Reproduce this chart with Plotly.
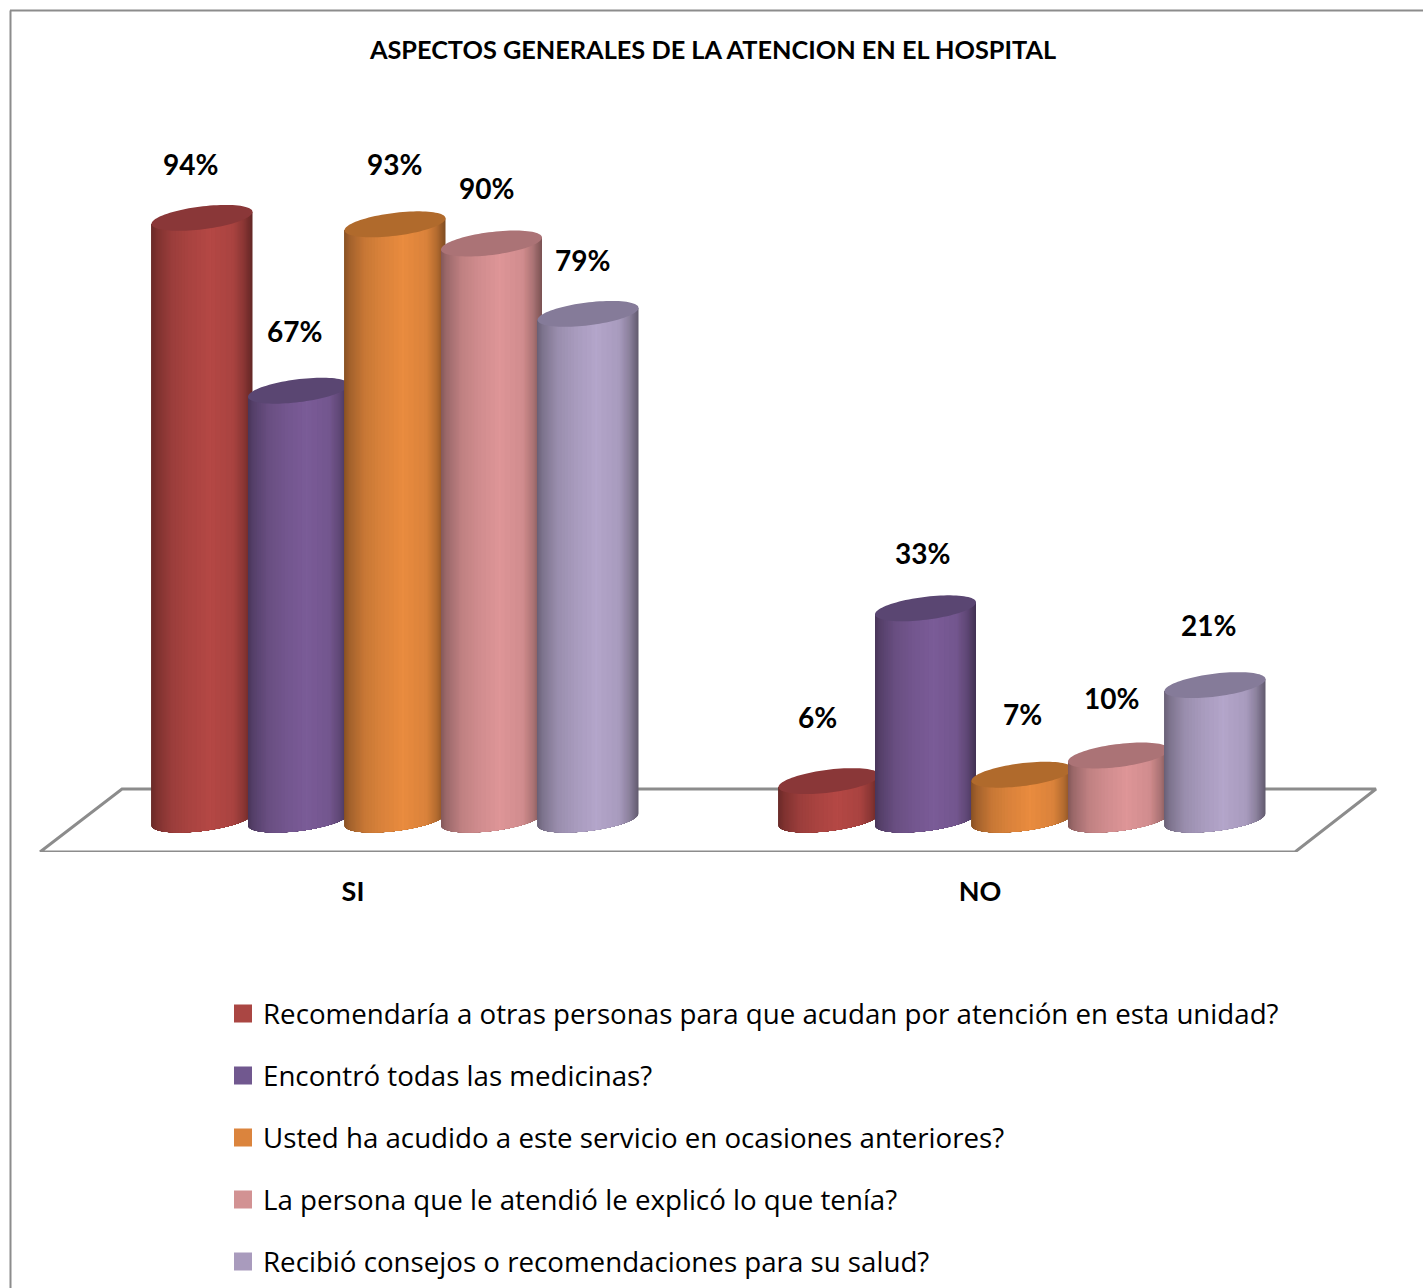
import numpy as np
import plotly.graph_objects as go

# Survey answers, as percentages of respondents
categories = ["SI", "NO"]
series_names = [
    "Recomendaría a otras personas para que acudan por atención en esta unidad?",
    "Encontró todas las medicinas?",
    "Usted ha acudido a este servicio en ocasiones anteriores?",
    "La persona que le atendió le explicó lo que tenía?",
    "Recibió consejos o recomendaciones para su salud?",
]
recomendaria = [94, 6]
medicinas = [67, 33]
ocasiones = [93, 7]
explico = [90, 10]
consejos = [79, 21]
series_values = [recomendaria, medicinas, ocasiones, explico, consejos]

legend_colors = ["#AA4643", "#71588F", "#DB843D", "#D29293", "#A99BBD"]
body_colors = ["#B54845", "#7B5C98", "#EA8C3F", "#DF9698", "#B4A6CB"]
cap_colors = ["#8A3738", "#5A4672", "#B06A2C", "#AB7376", "#857B99"]

# Label nudges in pixels (right, up) relative to the top of each cylinder
label_shifts = [
    [(-11.5, 54), (-11.5, 64)],
    [(-4.5, 60), (-3.5, 55)],
    [(-0.5, 60), (0.5, 61)],
    [(-5.5, 56), (-7.5, 58)],
    [(-5.5, 54), (-6.5, 60)],
]

WIDTH, HEIGHT = 1423, 1288
PX_PER_CATEGORY = 627.0
PX_PER_PERCENT = 6.40
FIRST_CATEGORY_PX = 353.0
ZERO_PX = 819.5
FLOOR_FRONT_PX = 852.0

# Axis scales: pixels on the page translate linearly into data units
x_range = [-FIRST_CATEGORY_PX / PX_PER_CATEGORY, (WIDTH - FIRST_CATEGORY_PX) / PX_PER_CATEGORY]
y_range = [(ZERO_PX - FLOOR_FRONT_PX) / PX_PER_PERCENT, ZERO_PX / PX_PER_PERCENT]
y_domain = [(HEIGHT - FLOOR_FRONT_PX) / HEIGHT, 1.0]

# Cylinder geometry, in pixels
RADIUS = 50.5
MINOR = 11.5
TILT = 6.0 / RADIUS
SPACING = 96.5
DEPTH_SHIFT = 42.0

# Brightness profile across a cylinder: rises to the highlight, then falls off
RISE_T = [0.0, 0.05, 0.2, 0.38, 0.58]
RISE_F = [0.60, 0.70, 0.86, 0.94, 1.0]
FALL_T = [0.58, 0.81, 0.91, 1.0]
FALL_F = [1.0, 0.94, 0.78, 0.55]
SHADE_LEVELS = np.linspace(0.55, 1.0, 34)


def tinted(color, factor):
    r, g, b = (int(color[i:i + 2], 16) for i in (1, 3, 5))
    return f"rgb({r * factor:.0f},{g * factor:.0f},{b * factor:.0f})"


def center_x(cat, idx):
    return cat + (DEPTH_SHIFT + (idx - 2) * SPACING) / PX_PER_CATEGORY


def band_outline(value, t_left, t_right):
    """Outline (dx px, height in percent) of the body between two fractions of its width."""
    th = np.linspace(np.arccos(1 - 2 * t_left), np.arccos(1 - 2 * t_right), 30)
    dx = -RADIUS * np.cos(th)
    front = (TILT * dx - MINOR * np.sin(th)) / PX_PER_PERCENT
    px = np.concatenate([dx, [dx[-1], dx[0], dx[0]]])
    py = np.concatenate([front, [value + TILT * dx[-1] / PX_PER_PERCENT,
                                 value + TILT * dx[0] / PX_PER_PERCENT, front[0]]])
    return px, py


fig = go.Figure()

# Floor of the plot
fl = np.array([40, 1295, 1376, 122, 40], dtype=float)
fy = np.array([852, 852, 789, 789, 852], dtype=float)
fig.add_trace(go.Scatter(
    x=(fl - FIRST_CATEGORY_PX) / PX_PER_CATEGORY,
    y=(ZERO_PX - fy) / PX_PER_PERCENT,
    mode="lines", line=dict(color="#8C8C8C", width=3),
    showlegend=False, hoverinfo="skip",
))

# One marker per value: the legend swatch source, sits behind the cylinders
for i, (name, vals) in enumerate(zip(series_names, series_values)):
    fig.add_trace(go.Scatter(
        x=[center_x(c, i) for c in range(len(categories))],
        y=vals, mode="markers", name=name, legendgroup=f"s{i}",
        marker=dict(symbol="square", size=16, color=legend_colors[i],
                    line=dict(width=2, color=legend_colors[i])),
        hoverinfo="skip",
    ))

# Cylinders: nested bands getting brighter towards the highlight, then the elliptical cap
for i, vals in enumerate(series_values):
    for level in SHADE_LEVELS:
        t_left = float(np.interp(level, RISE_F, RISE_T, left=0.0))
        t_right = float(np.interp(level, FALL_F[::-1], FALL_T[::-1], left=1.0))
        if t_right - t_left < 0.015:
            t_left, t_right = 0.57, 0.59
        xs, ys = [], []
        for c, v in enumerate(vals):
            px, py = band_outline(v, t_left, t_right)
            xs += list(center_x(c, i) + px / PX_PER_CATEGORY) + [None]
            ys += list(py) + [None]
        fig.add_trace(go.Scatter(
            x=xs, y=ys, mode="lines", fill="toself",
            fillcolor=tinted(body_colors[i], float(level)),
            line=dict(width=0, simplify=False), showlegend=False, hoverinfo="skip",
        ))
    xs, ys = [], []
    loop = np.linspace(0, 2 * np.pi, 90)
    for c, v in enumerate(vals):
        dx = RADIUS * np.cos(loop)
        dy = TILT * dx + MINOR * np.sin(loop)
        xs += list(center_x(c, i) + dx / PX_PER_CATEGORY) + [None]
        ys += list(v + dy / PX_PER_PERCENT) + [None]
    fig.add_trace(go.Scatter(
        x=xs, y=ys, mode="lines", fill="toself", fillcolor=cap_colors[i],
        line=dict(width=0, simplify=False), showlegend=False, hoverinfo="skip",
    ))

# Value labels
annotations = []
for i, vals in enumerate(series_values):
    for c, v in enumerate(vals):
        sx, sy = label_shifts[i][c]
        annotations.append(dict(
            x=center_x(c, i), y=v, xref="x", yref="y", text=f"{v}%", showarrow=False,
            xshift=sx, yshift=sy, xanchor="center", yanchor="middle",
            font=dict(family="Lato", size=28, color="black", weight=700),
        ))

# Frame around the chart area
shapes = [
    dict(type="line", xref="paper", yref="paper", x0=10.5 / WIDTH, x1=10.5 / WIDTH, y0=0, y1=1 - 10.5 / HEIGHT,
         line=dict(color="#8C8C8C", width=2)),
    dict(type="line", xref="paper", yref="paper", x0=10 / WIDTH, x1=1, y0=1 - 10.5 / HEIGHT, y1=1 - 10.5 / HEIGHT,
         line=dict(color="#8C8C8C", width=2)),
]

fig.update_layout(
    width=WIDTH, height=HEIGHT, autosize=False,
    margin=dict(l=0, r=0, t=0, b=0, autoexpand=False),
    paper_bgcolor="white", plot_bgcolor="white",
    title=dict(
        text="ASPECTOS GENERALES DE LA ATENCION EN EL HOSPITAL",
        x=713 / WIDTH, y=1 - 50 / HEIGHT, xanchor="center", yanchor="middle",
        font=dict(family="Lato", size=25.3, color="black", weight=700),
    ),
    xaxis=dict(
        range=x_range, tickmode="array", tickvals=list(range(len(categories))), ticktext=categories,
        showgrid=False, zeroline=False, showline=False, ticks="", ticklabelstandoff=21,
        tickfont=dict(family="Lato", size=27, color="black", weight=700),
    ),
    yaxis=dict(range=y_range, domain=y_domain, visible=False),
    legend=dict(
        x=223 / WIDTH, y=1 - 989 / HEIGHT, xanchor="left", yanchor="top", maxheight=400,
        font=dict(family="Open Sans", size=27.7, color="black"),
        tracegroupgap=23, bgcolor="rgba(0,0,0,0)", itemclick=False, itemdoubleclick=False,
    ),
    annotations=annotations, shapes=shapes,
)

fig.write_html("out.html")
